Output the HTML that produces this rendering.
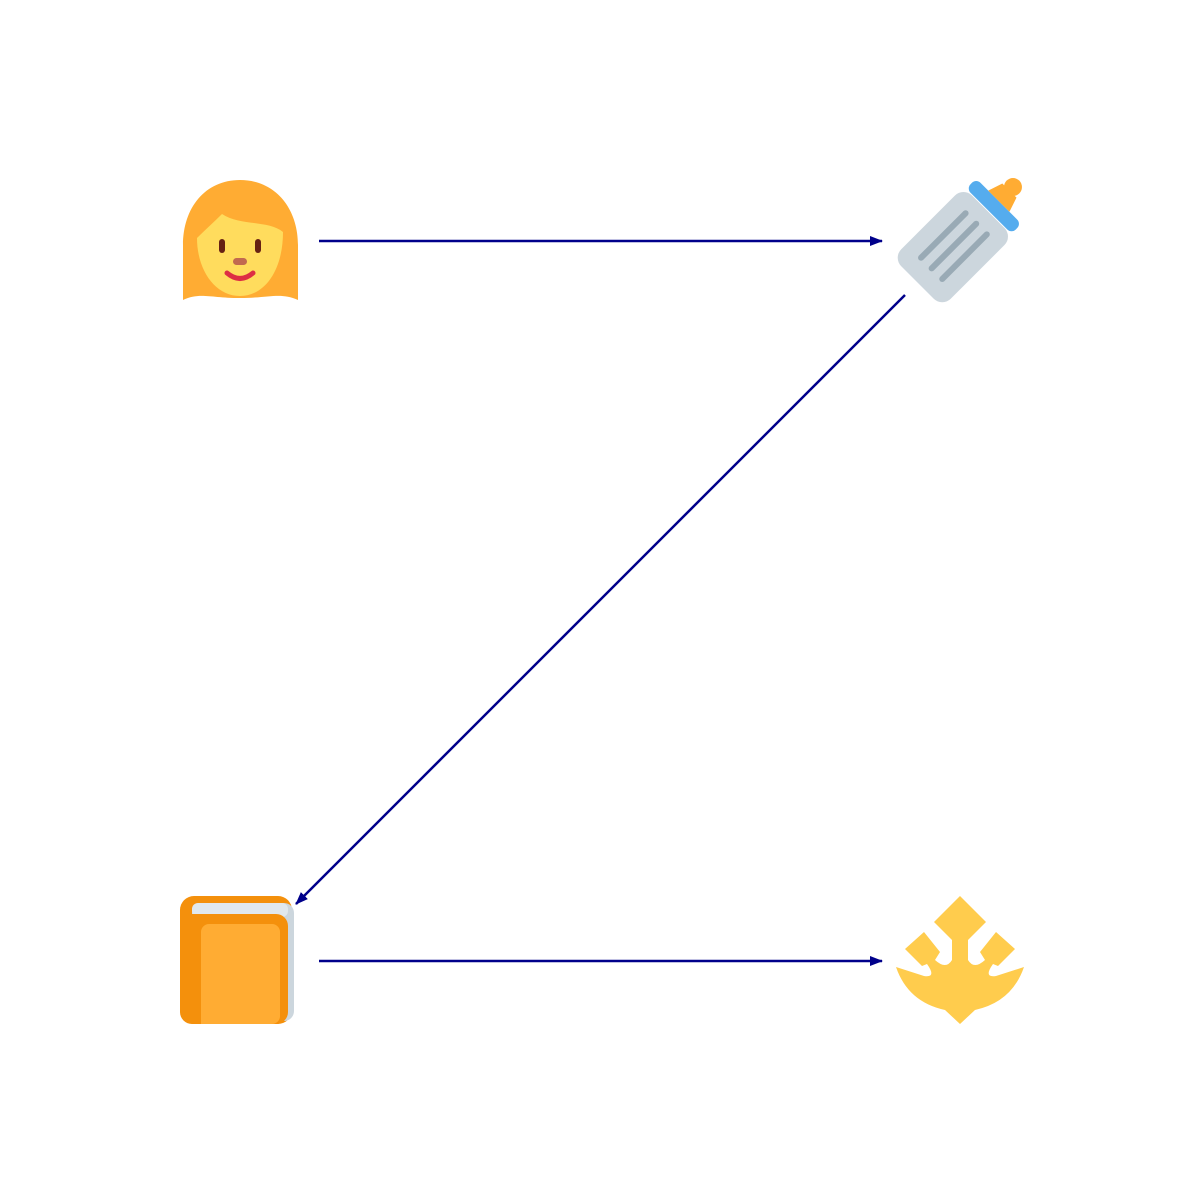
<!DOCTYPE html>
<html><head><meta charset="utf-8"><style>html,body{margin:0;padding:0;background:#fff}svg{display:block}</style></head>
<body>
<svg width="1200" height="1200" viewBox="0 0 1200 1200" xmlns="http://www.w3.org/2000/svg">
<defs>
<marker id="a" markerWidth="13" markerHeight="10" refX="12" refY="5" orient="auto" markerUnits="userSpaceOnUse" viewBox="0 0 13 10">
<path d="M0,0 L13,5 L0,10 Z" fill="#00008b"/></marker>
</defs>
<g stroke="#00008b" stroke-width="2.5" fill="none">
<line x1="319" y1="241" x2="882" y2="241" marker-end="url(#a)"/>
<line x1="905" y1="295" x2="296" y2="904" marker-end="url(#a)"/>
<line x1="319" y1="961" x2="882" y2="961" marker-end="url(#a)"/>
</g>
<!-- woman -->
<path d="M240,180 C275,180 298,208 298,245 L298,300 C280,292 270,298 240,298 C210,298 200,292 183,300 L183,245 C183,208 205,180 240,180 Z" fill="#ffac33"/>
<path d="M222,214 C240,226 268,220 283,232 C283,270 265,296 240,296 C215,296 197,270 197,238 C205,230 214,222 222,214 Z" fill="#ffdc5d"/>
<rect x="219" y="239" width="6" height="14" rx="3" fill="#662113"/>
<rect x="255" y="239" width="6" height="14" rx="3" fill="#662113"/>
<rect x="233" y="258" width="14" height="7" rx="3.5" fill="#c1694f"/>
<path d="M227,273 Q240,284 253,273" stroke="#dd2e44" stroke-width="5" fill="none" stroke-linecap="round"/>
<!-- bottle -->
<g transform="translate(12,-12) rotate(45 955 245)">
<rect x="920" y="215" width="70" height="100" rx="12" fill="#ccd6dd"/>
<rect x="923" y="200" width="64" height="14" rx="6" fill="#55acee"/>
<path d="M940,200 L945,185 L965,185 L970,200 Z" fill="#ffac33"/>
<circle cx="955" cy="180" r="9" fill="#ffac33"/>
<g stroke="#99aab5" stroke-width="6" stroke-linecap="round">
<line x1="940" y1="232" x2="940" y2="295"/><line x1="955" y1="232" x2="955" y2="295"/><line x1="970" y1="232" x2="970" y2="295"/>
</g>
</g>
<!-- book -->
<rect x="180" y="896" width="112" height="128" rx="14" fill="#f4900c"/>
<rect x="192" y="903" width="102" height="118" rx="10" fill="#ccd6dd"/>
<rect x="192" y="903" width="96" height="14" rx="6" fill="#e1e8ed"/>
<rect x="180" y="914" width="108" height="110" rx="12" fill="#f4900c"/>
<rect x="201" y="924" width="79" height="100" rx="8" fill="#ffac33"/>
<rect x="201" y="1004" width="20" height="20" fill="#ffac33"/>
<!-- emblem -->
<g fill="#ffcc4d">
<path d="M960,896 L986,922 L968,940 L968,960 Q974,970 985,960 L980,952 L996,932 L1015,949 L998,966 L993,964 Q983,978 996,976 L1024,967 Q1012,1002 975,1010 L960,1024 L945,1010 Q908,1002 896,967 L924,976 Q937,978 927,964 L922,966 L905,949 L924,932 L940,952 L935,960 Q946,970 952,960 L952,940 L934,922 Z"/>
</g>
</svg>
</body></html>
